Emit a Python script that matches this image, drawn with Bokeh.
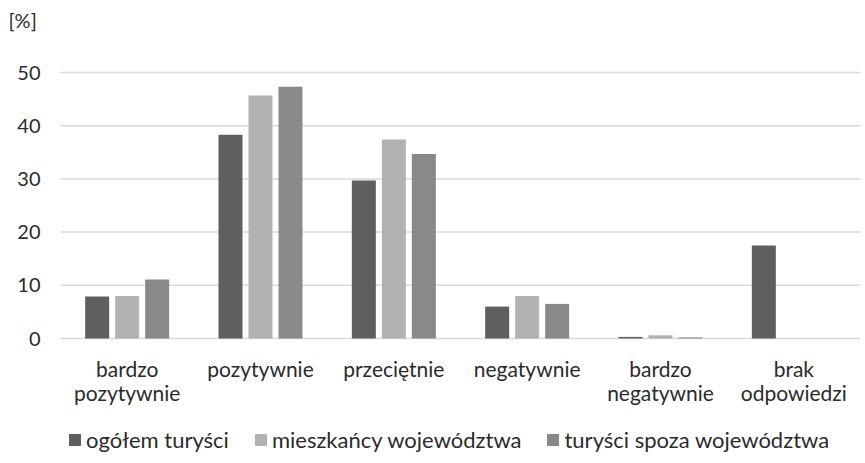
from bokeh.plotting import figure
from bokeh.models import ColumnDataSource, Legend, LegendItem, Range1d
from bokeh.core.properties import value
from bokeh.transform import dodge
from bokeh.embed import file_html
from bokeh.resources import INLINE

categories = ["bardzo\npozytywnie", "pozytywnie", "przeciętnie", "negatywnie", "bardzo\nnegatywnie", "brak\nodpowiedzi"]
ogolem = [7.9, 38.3, 29.7, 6.0, 0.3, 17.5]
mieszkancy = [8.0, 45.7, 37.4, 8.0, 0.6, 0.0]
spoza = [11.1, 47.3, 34.7, 6.5, 0.2, 0.0]
series_names = ["ogółem turyści", "mieszkańcy województwa", "turyści spoza województwa"]
colors = ["#5f5f5f", "#b2b2b2", "#898989"]
y_ticks = [0, 10, 20, 30, 40, 50]
y_tick_labels = ["0", "10", "20", "30", "40", "50"]
unit_label = "[%]"

FONT = "Lato"
TXT = "#2b2b2b"
n = len(categories)
xpos = [i + 0.5 for i in range(n)]
src = ColumnDataSource(dict(x=xpos, a=ogolem, b=mieszkancy, c=spoza, cat=categories))

W, H = 862, 458
cat_px = 800 / n
x_start = -60 / cat_px
px_per_unit = 5.32
y_start = -(H - 338) / px_per_unit
y_end = 338 / px_per_unit

p = figure(width=W, height=H, x_range=Range1d(x_start, x_start + W / cat_px),
           y_range=Range1d(y_start, y_end),
           output_backend="svg", toolbar_location=None,
           min_border_left=0, min_border_right=0, min_border_top=0, min_border_bottom=0)
p.outline_line_color = None
p.xaxis.visible = False
p.yaxis.visible = False
p.xgrid.grid_line_color = None
p.ygrid.grid_line_color = None

# gridlines
p.segment(x0=0, x1=n, y0=y_ticks, y1=y_ticks, line_color="#d9d9d9", line_width=1.5)

renderers = []
for key, off, col in zip(["a", "b", "c"], [-0.225, 0.0, 0.225], colors):
    r = p.vbar(x=dodge("x", off, range=p.x_range), top=key, width=0.18, source=src,
               fill_color=col, line_color=None)
    renderers.append(r)

# y tick labels
p.text(x=-0.15, y=y_ticks, text=y_tick_labels, text_font=value(FONT), text_font_size="20px",
       text_color=TXT, text_align="right", text_baseline="middle")
# category labels
p.text(x="x", y=-3.2, text="cat", source=src, text_font=value(FONT), text_font_size="21px",
       text_color=TXT, text_align="center", text_baseline="top", text_line_height=0.97)
# unit label
p.text(x=x_start + 8 / cat_px, y=(338 - 19) / px_per_unit, text=[unit_label], text_font=value(FONT),
       text_font_size="20px", text_color=TXT, text_align="left", text_baseline="middle")

legend = Legend(items=[LegendItem(label=s, renderers=[r]) for s, r in zip(series_names, renderers)],
                orientation="horizontal", location=(67, 5),
                label_text_font=FONT, label_text_font_size="22px", label_text_color=TXT,
                glyph_width=15, glyph_height=15, label_standoff=4, spacing=24,
                border_line_color=None, background_fill_alpha=0, padding=0, margin=0)
p.add_layout(legend)

open("out.html", "w").write(file_html(p, INLINE))
